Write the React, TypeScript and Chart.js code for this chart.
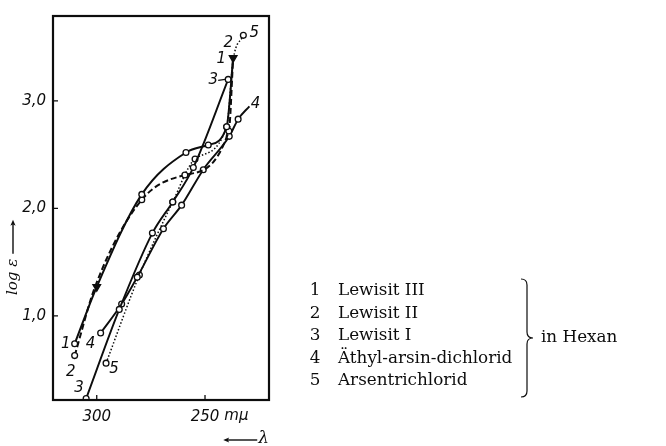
import React, { useEffect, useRef } from "react";
import { Chart, registerables } from "chart.js";

Chart.register(...registerables);

// ---- data (wavelength in mμ, log ε) ----
const lambda1 = [310.2, 300, 279.2, 258.8, 248.5, 240.0, 237.0];
const logE1 = [0.74, 1.27, 2.13, 2.52, 2.59, 2.76, 3.40];

const lambda2 = [310.2, 300.6, 279.2, 259.3, 239.0, 237.0];
const logE2 = [0.63, 1.28, 2.08, 2.31, 2.72, 3.40];

const lambda3 = [304.9, 289.6, 274.3, 264.9, 255.4, 239.3];
const logE3 = [0.23, 1.06, 1.77, 2.06, 2.38, 3.20];

const lambda4 = [298.2, 288.5, 281.3, 269.2, 260.8, 250.8, 238.8, 234.7, 229.5];
const logE4 = [0.84, 1.11, 1.36, 1.81, 2.03, 2.36, 2.67, 2.83, 2.95];

const lambda5 = [295.7, 280.3, 264.9, 254.6, 240.0, 237.0, 232.3];
const logE5 = [0.56, 1.38, 2.06, 2.46, 2.76, 3.38, 3.61];

const seriesNumbers = ["1", "2", "3", "4", "5"];
const seriesNames = [
  "Lewisit III",
  "Lewisit II",
  "Lewisit I",
  "Äthyl-arsin-dichlorid",
  "Arsentrichlorid",
];
const solventNote = "in Hexan";

const xTickValues = [300, 250];
const xTickLabels = ["300", "250"];
const xUnit = "mμ";
const xTitle = "λ";
const yTickValues = [1, 2, 3];
const yTickLabels = ["1,0", "2,0", "3,0"];
const yTitle = "log ε";

const xMin = 220.45;
const xMax = 320.2;
const yMin = 0.217;
const yMax = 3.79;

// ---- styling ----
const INK = "#0d0d0d";
const NUM_FONT = "italic 15px 'DejaVu Sans'";
const TAG_FONT = "italic 15px 'DejaVu Sans'";
const LEGEND_FONT = "16.8px 'DejaVu Serif'";

const toPts = (xs: number[], ys: number[]) => xs.map((x, i) => ({ x, y: ys[i] }));

// marker kind per point: 'o' open circle, 'v' filled triangle, '-' none
function markerProps(kinds: string[]) {
  return {
    pointStyle: kinds.map((k) => (k === "v" ? "triangle" : "circle")),
    pointRotation: kinds.map((k) => (k === "v" ? 180 : 0)),
    pointRadius: kinds.map((k) => (k === "v" ? 4.4 : k === "o" ? 2.9 : 0)),
    pointBackgroundColor: kinds.map((k) => (k === "v" ? INK : "#ffffff")),
    pointBorderColor: INK,
    pointBorderWidth: 1.3,
    pointHoverRadius: 0,
  };
}

const curveTags = [
  { ds: 0, at: 0, dx: -9, dy: 0, text: seriesNumbers[0] },
  { ds: 1, at: 0, dx: -4, dy: 16, text: seriesNumbers[1] },
  { ds: 2, at: 0, dx: -7, dy: -10, text: seriesNumbers[2] },
  { ds: 3, at: 0, dx: -10, dy: 11, text: seriesNumbers[3] },
  { ds: 4, at: 0, dx: 8, dy: 6, text: seriesNumbers[4] },
  { ds: 0, at: -1, dx: -12, dy: 1, text: seriesNumbers[0] },
  { ds: 1, at: -1, dx: -5, dy: -15, text: seriesNumbers[1] },
  { ds: 2, at: -1, dx: -15, dy: 1, text: seriesNumbers[2], dash: true },
  { ds: 3, at: -1, dx: 6, dy: -2, text: seriesNumbers[3] },
  { ds: 4, at: -1, dx: 11, dy: -2, text: seriesNumbers[4] },
];

function arrowHead(ctx: CanvasRenderingContext2D, x: number, y: number, dir: number) {
  const L = 6, W = 2.6;
  ctx.save();
  ctx.translate(x, y);
  ctx.rotate(dir);
  ctx.beginPath();
  ctx.moveTo(0, 0);
  ctx.lineTo(-L, -W);
  ctx.lineTo(-L + 1.5, 0);
  ctx.lineTo(-L, W);
  ctx.closePath();
  ctx.fill();
  ctx.restore();
}

const decorPlugin = {
  id: "decor",
  afterDraw(chart: any) {
    const ctx: CanvasRenderingContext2D = chart.ctx;
    const area = chart.chartArea;
    const xs = chart.scales.x;
    const ys = chart.scales.y;
    ctx.save();
    ctx.strokeStyle = INK;
    ctx.fillStyle = INK;

    // frame
    ctx.lineWidth = 2.2;
    ctx.strokeRect(area.left, area.top, area.right - area.left, area.bottom - area.top);

    // inner tick marks
    ctx.lineWidth = 1.3;
    ctx.beginPath();
    yTickValues.forEach((v) => {
      const py = ys.getPixelForValue(v);
      ctx.moveTo(area.left, py);
      ctx.lineTo(area.left + 5, py);
    });
    xTickValues.forEach((v) => {
      const px = xs.getPixelForValue(v);
      ctx.moveTo(px, area.bottom);
      ctx.lineTo(px, area.bottom - 5);
    });
    ctx.stroke();

    // unit after last x tick label
    ctx.font = NUM_FONT;
    ctx.textBaseline = "middle";
    ctx.textAlign = "left";
    const lastIdx = xTickValues.length - 1;
    const lx = xs.getPixelForValue(xTickValues[lastIdx]);
    const lw = ctx.measureText(xTickLabels[lastIdx]).width;
    const labelY = area.bottom + 16;
    ctx.fillText(xUnit, lx + lw / 2 + 5, labelY);

    // x title: arrow + λ
    ctx.font = "italic 17px 'DejaVu Serif'";
    ctx.textAlign = "right";
    const lamRight = area.right;
    const lamY = 439;
    ctx.fillText(xTitle, lamRight, lamY);
    const lamW = ctx.measureText(xTitle).width;
    const ax1 = lamRight - lamW - 1;
    const ax0 = ax1 - 34;
    ctx.lineWidth = 1.4;
    ctx.beginPath();
    ctx.moveTo(ax0 + 3, lamY + 1);
    ctx.lineTo(ax1, lamY + 1);
    ctx.stroke();
    arrowHead(ctx, ax0, lamY + 1, Math.PI);

    // y title: rotated "log ε" with upward arrow
    ctx.save();
    ctx.translate(13, 295);
    ctx.rotate(-Math.PI / 2);
    ctx.font = "italic 15px 'DejaVu Serif'";
    ctx.textAlign = "left";
    ctx.textBaseline = "middle";
    ctx.fillText(yTitle, 0, 0);
    const tw = ctx.measureText(yTitle).width;
    ctx.beginPath();
    ctx.moveTo(tw + 5, 0);
    ctx.lineTo(tw + 36, 0);
    ctx.stroke();
    arrowHead(ctx, tw + 39, 0, 0);
    ctx.restore();

    // curve number tags
    ctx.font = TAG_FONT;
    ctx.textAlign = "center";
    ctx.textBaseline = "middle";
    curveTags.forEach((t) => {
      const meta = chart.getDatasetMeta(t.ds);
      const els = meta.data;
      const el = els[t.at < 0 ? els.length + t.at : t.at];
      if (!el) return;
      ctx.fillText(t.text, el.x + t.dx, el.y + t.dy);
      if ((t as any).dash) {
        ctx.lineWidth = 1.1;
        ctx.beginPath();
        ctx.moveTo(el.x + t.dx + 5, el.y + t.dy);
        ctx.lineTo(el.x - 3, el.y);
        ctx.stroke();
      }
    });

    // legend block
    ctx.font = LEGEND_FONT;
    ctx.textBaseline = "middle";
    const y0 = 291;
    const dy = 22.5;
    seriesNames.forEach((name, i) => {
      const y = y0 + i * dy;
      ctx.textAlign = "center";
      ctx.fillText(seriesNumbers[i], 315, y);
      ctx.textAlign = "left";
      ctx.fillText(name, 338, y);
    });

    // brace
    const bx = 521, bTop = 279, bBot = 397, w = 6;
    const bm = (bTop + bBot) / 2;
    ctx.lineWidth = 1.2;
    ctx.beginPath();
    ctx.moveTo(bx, bTop);
    ctx.quadraticCurveTo(bx + w, bTop, bx + w, bTop + w);
    ctx.lineTo(bx + w, bm - w);
    ctx.quadraticCurveTo(bx + w, bm, bx + 2 * w, bm);
    ctx.quadraticCurveTo(bx + w, bm, bx + w, bm + w);
    ctx.lineTo(bx + w, bBot - w);
    ctx.quadraticCurveTo(bx + w, bBot, bx, bBot);
    ctx.stroke();
    ctx.textAlign = "left";
    ctx.fillText(solventNote, 541, bm);

    ctx.restore();
  },
};

export default function App() {
  const canvasRef = useRef<HTMLCanvasElement | null>(null);

  useEffect(() => {
    if (!canvasRef.current) return;
    const common = {
      borderColor: INK,
      fill: false,
      cubicInterpolationMode: "monotone" as const,
    };
    const chart = new Chart(canvasRef.current, {
      type: "line",
      data: {
        datasets: [
          {
            ...common,
            label: seriesNames[0],
            data: toPts(lambda1, logE1),
            borderWidth: 2,
            ...markerProps(["o", "v", "o", "o", "o", "o", "v"]),
          },
          {
            ...common,
            label: seriesNames[1],
            data: toPts(lambda2, logE2),
            borderWidth: 2,
            borderDash: [6, 3],
            ...markerProps(["o", "-", "o", "o", "o", "-"]),
          },
          {
            ...common,
            label: seriesNames[2],
            data: toPts(lambda3, logE3),
            borderWidth: 1.9,
            ...markerProps(["o", "o", "o", "o", "o", "o"]),
          },
          {
            ...common,
            label: seriesNames[3],
            data: toPts(lambda4, logE4),
            borderWidth: 1.9,
            ...markerProps(["o", "o", "o", "o", "o", "o", "o", "o", "-"]),
          },
          {
            ...common,
            label: seriesNames[4],
            data: toPts(lambda5, logE5),
            borderWidth: 1.5,
            borderDash: [1.5, 2],
            ...markerProps(["o", "o", "o", "o", "o", "-", "o"]),
          },
        ],
      },
      options: {
        animation: false,
        responsive: true,
        maintainAspectRatio: false,
        layout: { padding: { left: 8, top: 12, right: 397, bottom: 0 } },
        plugins: {
          legend: { display: false },
          tooltip: { enabled: false },
        },
        scales: {
          x: {
            type: "linear",
            reverse: true,
            min: xMin,
            max: xMax,
            afterBuildTicks: (s: any) => {
              s.ticks = xTickValues.map((v) => ({ value: v }));
            },
            afterFit: (s: any) => {
              s.height = 46;
            },
            grid: { display: false, drawTicks: false },
            border: { display: false },
            ticks: {
              padding: 8,
              color: INK,
              font: { family: "'DejaVu Sans'", size: 15, style: "italic" },
              callback: (v: any) => {
                const i = xTickValues.indexOf(Number(v));
                return i >= 0 ? xTickLabels[i] : "";
              },
            },
          },
          y: {
            type: "linear",
            min: yMin,
            max: yMax,
            afterBuildTicks: (s: any) => {
              s.ticks = yTickValues.map((v) => ({ value: v }));
            },
            afterFit: (s: any) => {
              s.width = 45;
            },
            grid: { display: false, drawTicks: false },
            border: { display: false },
            ticks: {
              padding: 7,
              color: INK,
              font: { family: "'DejaVu Sans'", size: 15, style: "italic" },
              callback: (v: any) => {
                const i = yTickValues.indexOf(Number(v));
                return i >= 0 ? yTickLabels[i] : "";
              },
            },
          },
        },
      },
      plugins: [decorPlugin],
    });
    return () => chart.destroy();
  }, []);

  return (
    <div
      style={{
        position: "fixed",
        left: 0,
        top: 0,
        width: 666,
        height: 446,
        background: "#fff",
      }}
    >
      <canvas ref={canvasRef} />
    </div>
  );
}
